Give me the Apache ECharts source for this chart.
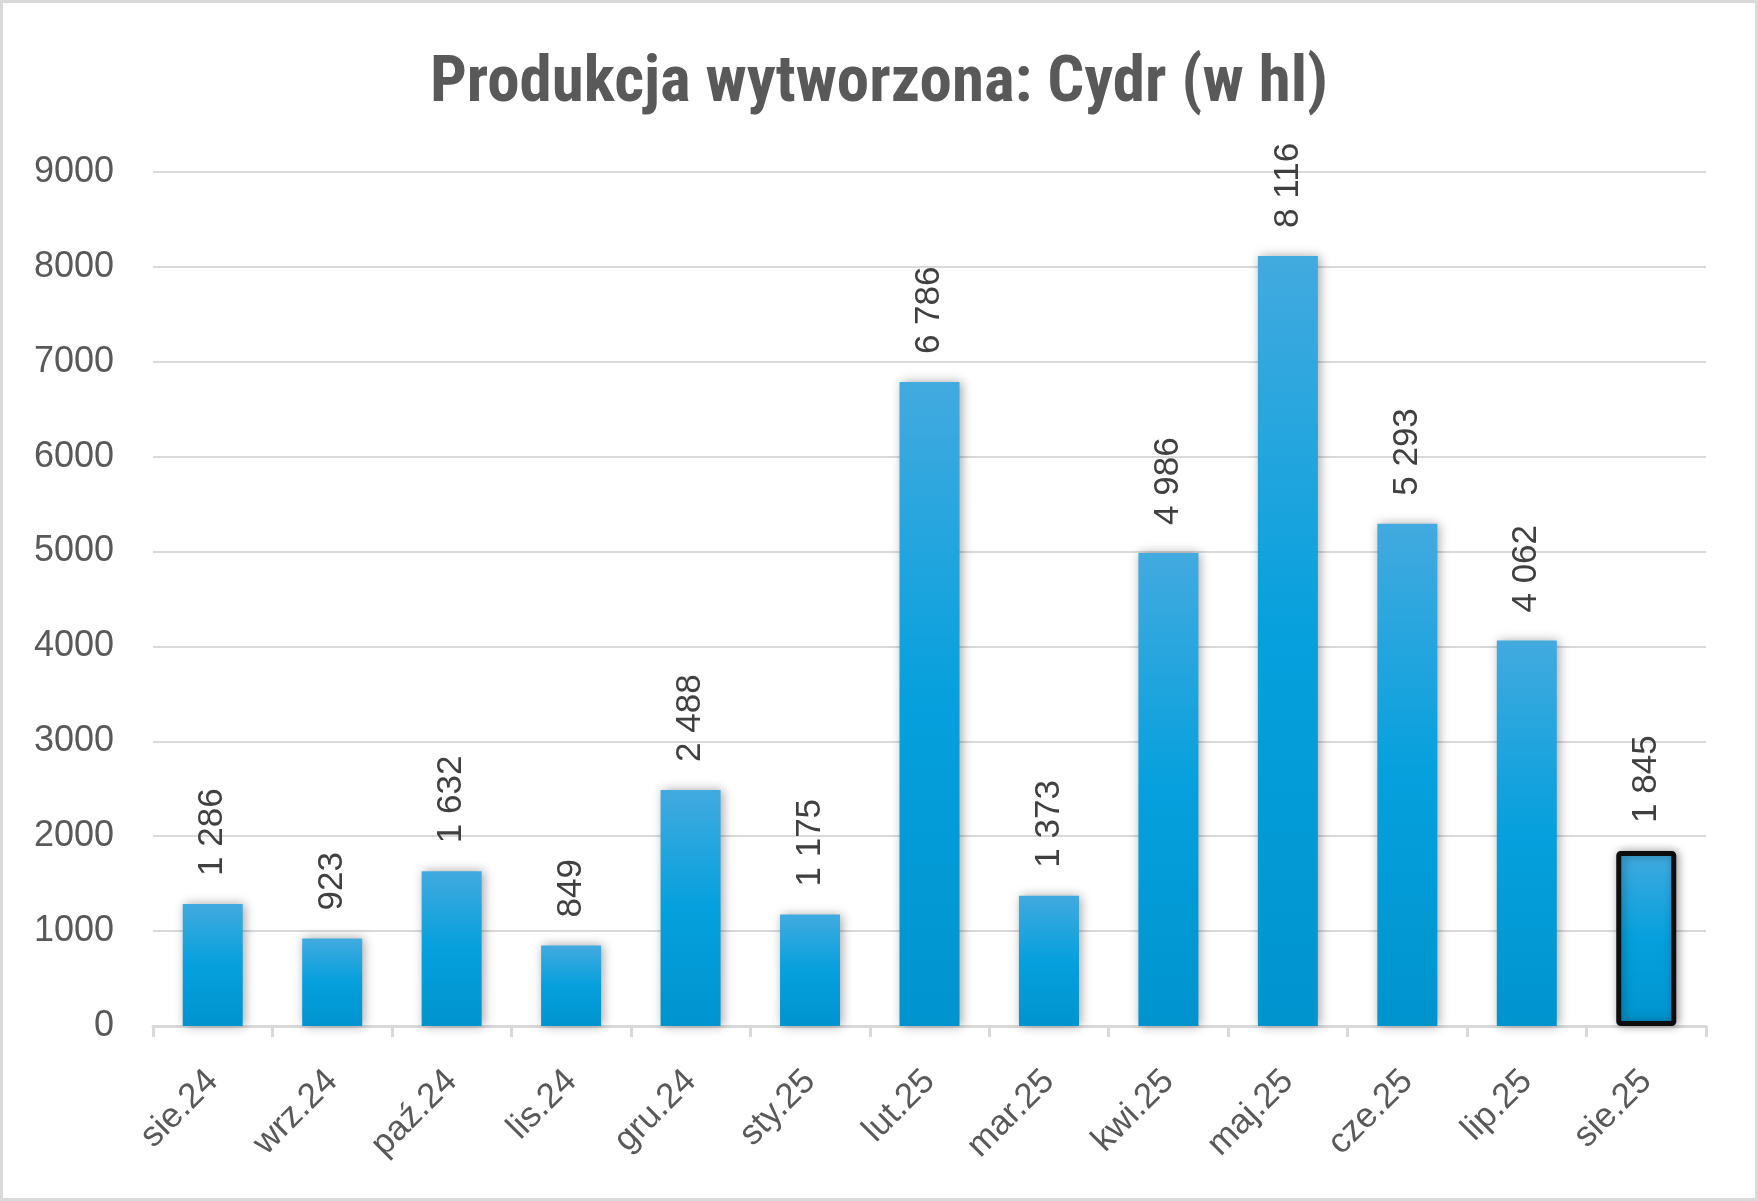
<!DOCTYPE html>
<html>
<head>
<meta charset="utf-8">
<script src="https://cdn.jsdelivr.net/npm/echarts@6/dist/echarts.min.js"></script>
<style>
html,body{margin:0;padding:0;background:#fff;}
#c{width:1758px;height:1201px;}
</style>
</head>
<body>
<div id="c"></div>
<script>
const categories = ['sie.24','wrz.24','paź.24','lis.24','gru.24','sty.25','lut.25','mar.25','kwi.25','maj.25','cze.25','lip.25','sie.25'];
const values = [1286, 923, 1632, 849, 2488, 1175, 6786, 1373, 4986, 8116, 5293, 4062, 1845];
const yTicks = { min: 0, max: 9000, interval: 1000 };
const titleText = 'Produkcja wytworzona: Cydr (w hl)';
const highlightIndex = 12;

const chart = echarts.init(document.getElementById('c'));
const grad = new echarts.graphic.LinearGradient(0, 0, 0, 1, [
  { offset: 0, color: '#42aadf' },
  { offset: 0.5, color: '#05a0dd' },
  { offset: 1, color: '#0094cf' }
]);
const fmt = v => String(v).replace(/\B(?=(\d{3})+(?!\d))/g, ' ');
const labelFont = "'Liberation Sans', Arial, sans-serif";

chart.setOption({
  backgroundColor: '#fff',
  animation: false,
  graphic: [{
    type: 'rect', z: 100, silent: true,
    shape: { x: 1.5, y: 1.5, width: 1755, height: 1198 },
    style: { fill: 'none', stroke: '#d9d9d9', lineWidth: 3 }
  }],
  title: {
    text: titleText,
    left: 'center',
    top: 47,
    textStyle: {
      fontFamily: "'Liberation Sans Narrow', 'Roboto Condensed', Roboto, sans-serif",
      fontWeight: 'bold',
      fontSize: 65,
      color: '#595959'
    }
  },
  grid: { left: 153, right: 52, top: 172, bottom: 175, containLabel: false },
  xAxis: {
    type: 'category',
    data: categories,
    boundaryGap: true,
    axisLine: { lineStyle: { color: '#d9d9d9', width: 3 } },
    axisTick: { show: true, length: 11, lineStyle: { color: '#d9d9d9', width: 3 } },
    axisLabel: {
      rotate: 45, interval: 0, margin: 50,
      color: '#595959', fontSize: 35, fontFamily: labelFont
    }
  },
  yAxis: {
    type: 'value',
    min: yTicks.min, max: yTicks.max, interval: yTicks.interval,
    axisLine: { show: false },
    axisTick: { show: false },
    splitLine: { lineStyle: { color: '#d9d9d9', width: 2 } },
    axisLabel: { color: '#595959', fontSize: 36, margin: 39, fontFamily: labelFont, formatter: v => String(v) }
  },
  series: [{
    type: 'bar',
    barWidth: 60,
    data: values.map((v, i) => i === highlightIndex ? {
      value: v,
      itemStyle: { borderColor: '#0d0d0d', borderWidth: 5, borderRadius: 2 }
    } : v),
    itemStyle: {
      color: grad,
      shadowBlur: 10,
      shadowColor: 'rgba(0,0,0,0.35)',
      shadowOffsetX: 2
    },
    label: {
      show: true,
      position: 'top',
      rotate: 90,
      align: 'left',
      verticalAlign: 'middle',
      distance: 28,
      color: '#404040',
      fontSize: 35,
      fontFamily: labelFont,
      formatter: p => fmt(p.value)
    }
  }]
});
</script>
</body>
</html>
